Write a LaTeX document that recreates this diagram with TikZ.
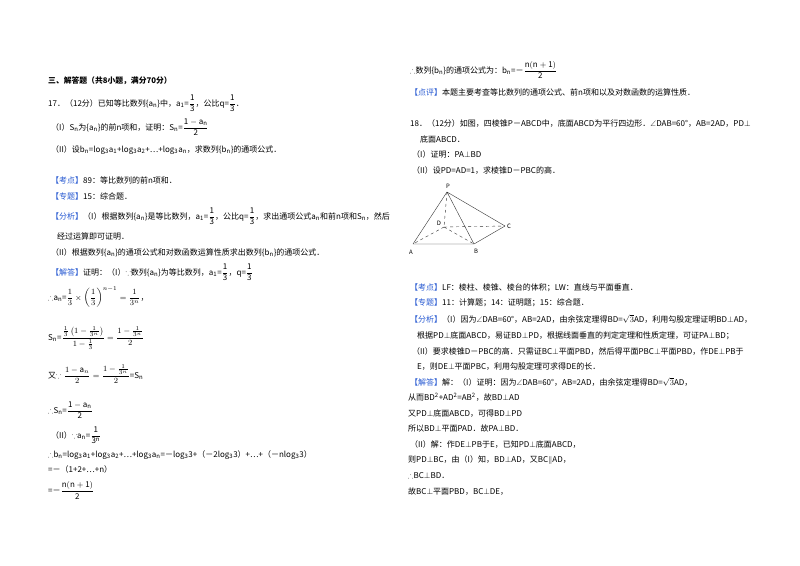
\documentclass[tikz,border=0pt]{standalone}
\usepackage{amsmath,amssymb}
\usepackage{fontspec}
\setmainfont{Noto Sans CJK SC}
\newcommand\sbs[1]{\textsubscript{#1}}
\newcommand\hl[1]{\textcolor{kblue}{【#1】}}
\newcommand\fr[2]{$\dfrac{\mathrm{#1}}{\mathrm{#2}}$}
\definecolor{kblue}{RGB}{40,90,210}
\begin{document}
\begin{tikzpicture}[x=1pt,y=-1pt,
  t/.style={anchor=base west,inner sep=0pt,font=\fontsize{8}{9}\selectfont},
  lbl/.style={inner sep=0pt,font=\fontsize{6}{7}\selectfont\rmfamily},
  ed/.style={thin,black!80},
  hid/.style={thin,black!80,dashed}]
\useasboundingbox[fill=white] (0,0) rectangle (800,565);
% left column
\node[t,font=\fontsize{7.8}{9}\selectfont\bfseries] (h) at (48,83) {三、解答题（共8小题，满分70分）};
\node[t] (l1) at (48,106) {17．（12分）已知等比数列\{a\sbs{n}\}中，a\sbs{1}=\fr{1}{3}，公比q=\fr{1}{3}．};
\node[t] (l2) at (51,130) {（I）S\sbs{n}为\{a\sbs{n}\}的前n项和，证明：S\sbs{n}=\fr{1-a_n}{2}};
\node[t] (l3) at (51,152) {（II）设b\sbs{n}=log\sbs{3}a\sbs{1}+log\sbs{3}a\sbs{2}+…+log\sbs{3}a\sbs{n}，求数列\{b\sbs{n}\}的通项公式．};
\node[t] (l4) at (51,183) {\hl{考点}89：等比数列的前n项和．};
\node[t] (l5) at (51,199) {\hl{专题}15：综合题．};
\node[t] (l6) at (51,219) {\hl{分析}（I）根据数列\{a\sbs{n}\}是等比数列，a\sbs{1}=\fr{1}{3}，公比q=\fr{1}{3}，求出通项公式a\sbs{n}和前n项和S\sbs{n}，然后};
\node[t] (l7) at (57,239) {经过运算即可证明．};
\node[t] (l8) at (51,255) {（II）根据数列\{a\sbs{n}\}的通项公式和对数函数运算性质求出数列\{b\sbs{n}\}的通项公式．};
\node[t] (l9) at (51,275) {\hl{解答}证明：（I）$\because$数列\{a\sbs{n}\}为等比数列，a\sbs{1}=\fr{1}{3}，q=\fr{1}{3}};
\node[t] (l10) at (48,300) {$\therefore$a\sbs{n}=$\dfrac{1}{3}\times\left(\dfrac{1}{3}\right)^{n-1}=\dfrac{1}{3^n}$，};
\node[t] (l11) at (48,340) {S\sbs{n}=$\dfrac{\frac{1}{3}\left(1-\frac{1}{3^n}\right)}{1-\frac{1}{3}}=\dfrac{1-\frac{1}{3^n}}{2}$};
\node[t] (l12) at (48,378) {又$\because\dfrac{1-\mathrm{a}_n}{2}=\dfrac{1-\frac{1}{3^n}}{2}$=S\sbs{n}};
\node[t] (l13) at (48,413) {$\therefore$S\sbs{n}=\fr{1-a_n}{2}};
\node[t] (l14) at (51,438) {（II）$\because$a\sbs{n}=\fr{1}{3^n}};
\node[t] (l15) at (48,457) {$\therefore$b\sbs{n}=log\sbs{3}a\sbs{1}+log\sbs{3}a\sbs{2}+…+log\sbs{3}a\sbs{n}=－log\sbs{3}3+（－2log\sbs{3}3）+…+（－nlog\sbs{3}3）};
\node[t] (l16) at (48,472) {=－（1+2+…+n）};
\node[t] (l17) at (48,493) {=－\fr{n(n+1)}{2}};
% right column
\node[t] (r1) at (410,73) {$\therefore$数列\{b\sbs{n}\}的通项公式为：b\sbs{n}=－\fr{n(n+1)}{2}};
\node[t] (r2) at (410,95) {\hl{点评}本题主要考查等比数列的通项公式、前n项和以及对数函数的运算性质．};
\node[t] (r3) at (410,126) {18．（12分）如图，四棱锥P－ABCD中，底面ABCD为平行四边形．$\angle$DAB=60°，AB=2AD，PD$\perp$};
\node[t] (r4) at (420,142) {底面ABCD．};
\node[t] (r5) at (412,157) {（I）证明：PA$\perp$BD};
\node[t] (r6) at (412,173) {（II）设PD=AD=1，求棱锥D－PBC的高．};
% figure
\coordinate (P) at (447,192);
\coordinate (D) at (444,227);
\coordinate (C) at (505,226);
\coordinate (A) at (413,244);
\coordinate (B) at (474,244);
\draw[ed] (P)--(A) (P)--(B) (P)--(C) (A)--(B)--(C);
\draw[hid] (P)--(D) (D)--(A) (D)--(B) (D)--(C);
\node[lbl] (lP) at (448,186) {P};
\node[lbl] (lD) at (439,223) {D};
\node[lbl] (lC) at (509,226) {C};
\node[lbl] (lA) at (411,252) {A};
\node[lbl] (lB) at (476,251) {B};
\node[t] (r7) at (410,290) {\hl{考点}LF：棱柱、棱锥、棱台的体积；LW：直线与平面垂直．};
\node[t] (r8) at (410,305) {\hl{专题}11：计算题；14：证明题；15：综合题．};
\node[t] (r9) at (410,322) {\hl{分析}（I）因为$\angle$DAB=60°，AB=2AD，由余弦定理得BD=$\sqrt{3}$AD，利用勾股定理证明BD$\perp$AD，};
\node[t] (r10) at (417,338) {根据PD$\perp$底面ABCD，易证BD$\perp$PD，根据线面垂直的判定定理和性质定理，可证PA$\perp$BD；};
\node[t] (r11) at (412,354) {（II）要求棱锥D－PBC的高．只需证BC$\perp$平面PBD，然后得平面PBC$\perp$平面PBD，作DE$\perp$PB于};
\node[t] (r12) at (417,369) {E，则DE$\perp$平面PBC，利用勾股定理可求得DE的长．};
\node[t] (r13) at (410,385) {\hl{解答}解：（I）证明：因为$\angle$DAB=60°，AB=2AD，由余弦定理得BD=$\sqrt{3}$AD，};
\node[t] (r14) at (408,400) {从而BD\textsuperscript{2}+AD\textsuperscript{2}=AB\textsuperscript{2}，故BD$\perp$AD};
\node[t] (r15) at (408,416) {又PD$\perp$底面ABCD，可得BD$\perp$PD};
\node[t] (r16) at (408,431) {所以BD$\perp$平面PAD．故PA$\perp$BD．};
\node[t] (r17) at (410,447) {（II）解：作DE$\perp$PB于E，已知PD$\perp$底面ABCD，};
\node[t] (r18) at (408,462) {则PD$\perp$BC，由（I）知，BD$\perp$AD，又BC$\parallel$AD，};
\node[t] (r19) at (408,478) {$\therefore$BC$\perp$BD．};
\node[t] (r20) at (408,494) {故BC$\perp$平面PBD，BC$\perp$DE，};
\end{tikzpicture}
\end{document}
